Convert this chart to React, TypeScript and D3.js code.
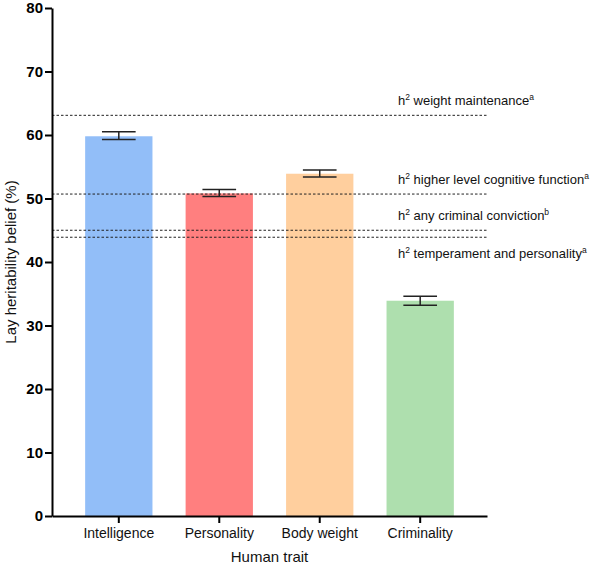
import React, { useEffect, useRef } from 'react';
import * as d3 from 'd3';

const traits = ['Intelligence', 'Personality', 'Body weight', 'Criminality'];
const beliefMeans = [59.8, 50.8, 53.9, 33.9];
const beliefLow = [59.3, 50.3, 53.4, 33.2];
const beliefHigh = [60.5, 51.4, 54.5, 34.6];
const barColors = ['#92BEF8', '#FF7F7F', '#FFCF9E', '#AEDFAE'];

const refNames = ['weight maintenance', 'higher level cognitive function', 'any criminal conviction', 'temperament and personality'];
const refNotes = ['a', 'a', 'b', 'a'];
const refValues = [63.1, 50.7, 45.0, 43.9];
const refLabelBelow = [false, false, false, true];

const yTicks = [0, 10, 20, 30, 40, 50, 60, 70, 80];

const App: React.FC = () => {
  const ref = useRef<SVGSVGElement>(null);

  useEffect(() => {
    if (!ref.current) return;
    const svg = d3.select(ref.current);
    svg.selectAll('*').remove();

    const font = 'Liberation Sans, Arial, sans-serif';
    const x0 = 52, x1 = 487, yTop = 8, yBottom = 516;

    const x = d3.scaleBand<string>()
      .domain(traits)
      .range([x0, x1])
      .paddingInner(0.33)
      .paddingOuter(0.33);

    const y = d3.scaleLinear().domain([0, 80]).range([yBottom, yTop]);

    const data = traits.map((t, i) => ({
      trait: t, mean: beliefMeans[i], lo: beliefLow[i], hi: beliefHigh[i], color: barColors[i]
    }));

    // bars
    svg.append('g')
      .selectAll('rect')
      .data(data)
      .join('rect')
      .attr('x', d => x(d.trait)!)
      .attr('y', d => y(d.mean))
      .attr('width', x.bandwidth())
      .attr('height', d => y(0) - y(d.mean))
      .attr('fill', d => d.color);

    // reference lines
    const refs = refNames.map((n, i) => ({ name: n, note: refNotes[i], v: refValues[i], below: refLabelBelow[i] }));
    svg.append('g')
      .selectAll('line')
      .data(refs)
      .join('line')
      .attr('x1', x0)
      .attr('x2', x1)
      .attr('y1', d => y(d.v))
      .attr('y2', d => y(d.v))
      .attr('stroke', '#222')
      .attr('stroke-width', 1)
      .attr('stroke-dasharray', '2.5,2');

    const labels = svg.append('g')
      .selectAll('text')
      .data(refs)
      .join('text')
      .attr('x', 398)
      .attr('y', d => y(d.v) + (d.below ? 21 : -10))
      .attr('font-family', font)
      .attr('font-size', 13)
      .attr('fill', '#111');
    labels.append('tspan').text('h');
    labels.append('tspan').attr('font-size', 8.5).attr('dy', -5).text('2');
    labels.append('tspan').attr('dy', 5).text(d => ' ' + d.name);
    labels.append('tspan').attr('font-size', 8.5).attr('dy', -5).text(d => d.note);

    // error bars
    const cap = x.bandwidth() / 4;
    const eb = svg.append('g').attr('stroke', '#222').attr('stroke-width', 1.5);
    data.forEach(d => {
      const cx = x(d.trait)! + x.bandwidth() / 2;
      eb.append('line').attr('x1', cx).attr('x2', cx).attr('y1', y(d.hi)).attr('y2', y(d.lo));
      eb.append('line').attr('x1', cx - cap).attr('x2', cx + cap).attr('y1', y(d.hi)).attr('y2', y(d.hi));
      eb.append('line').attr('x1', cx - cap).attr('x2', cx + cap).attr('y1', y(d.lo)).attr('y2', y(d.lo));
    });

    // y axis
    const yAxis = svg.append('g')
      .attr('transform', `translate(${x0},0)`)
      .call(d3.axisLeft(y).tickValues(yTicks).tickSize(7).tickPadding(2).tickSizeOuter(0));
    yAxis.select('.domain').attr('stroke', '#000').attr('stroke-width', 2);
    yAxis.selectAll('.tick line').attr('stroke', '#000').attr('stroke-width', 2);
    yAxis.selectAll('.tick text')
      .attr('font-family', font)
      .attr('font-size', 15)
      .attr('font-weight', 'bold')
      .attr('fill', '#000');

    // x axis
    const xAxis = svg.append('g')
      .attr('transform', `translate(0,${yBottom})`)
      .call(d3.axisBottom(x).tickSize(7).tickPadding(5).tickSizeOuter(0));
    xAxis.select('.domain').attr('stroke', '#000').attr('stroke-width', 2);
    xAxis.selectAll('.tick line').attr('stroke', '#000').attr('stroke-width', 2);
    xAxis.selectAll('.tick text')
      .attr('font-family', font)
      .attr('font-size', 14)
      .attr('fill', '#111');

    // axis titles
    svg.append('text')
      .attr('x', (x0 + x1) / 2)
      .attr('y', 562)
      .attr('text-anchor', 'middle')
      .attr('font-family', font)
      .attr('font-size', 15)
      .attr('fill', '#111')
      .text('Human trait');

    svg.append('text')
      .attr('transform', `translate(16,${(yTop + yBottom) / 2}) rotate(-90)`)
      .attr('text-anchor', 'middle')
      .attr('font-family', font)
      .attr('font-size', 15)
      .attr('fill', '#111')
      .text('Lay heritability belief (%)');
  }, []);

  return (
    <svg
      ref={ref}
      width={605}
      height={565}
      style={{ position: 'absolute', left: 0, top: 0, background: '#fff' }}
    />
  );
};

export default App;
